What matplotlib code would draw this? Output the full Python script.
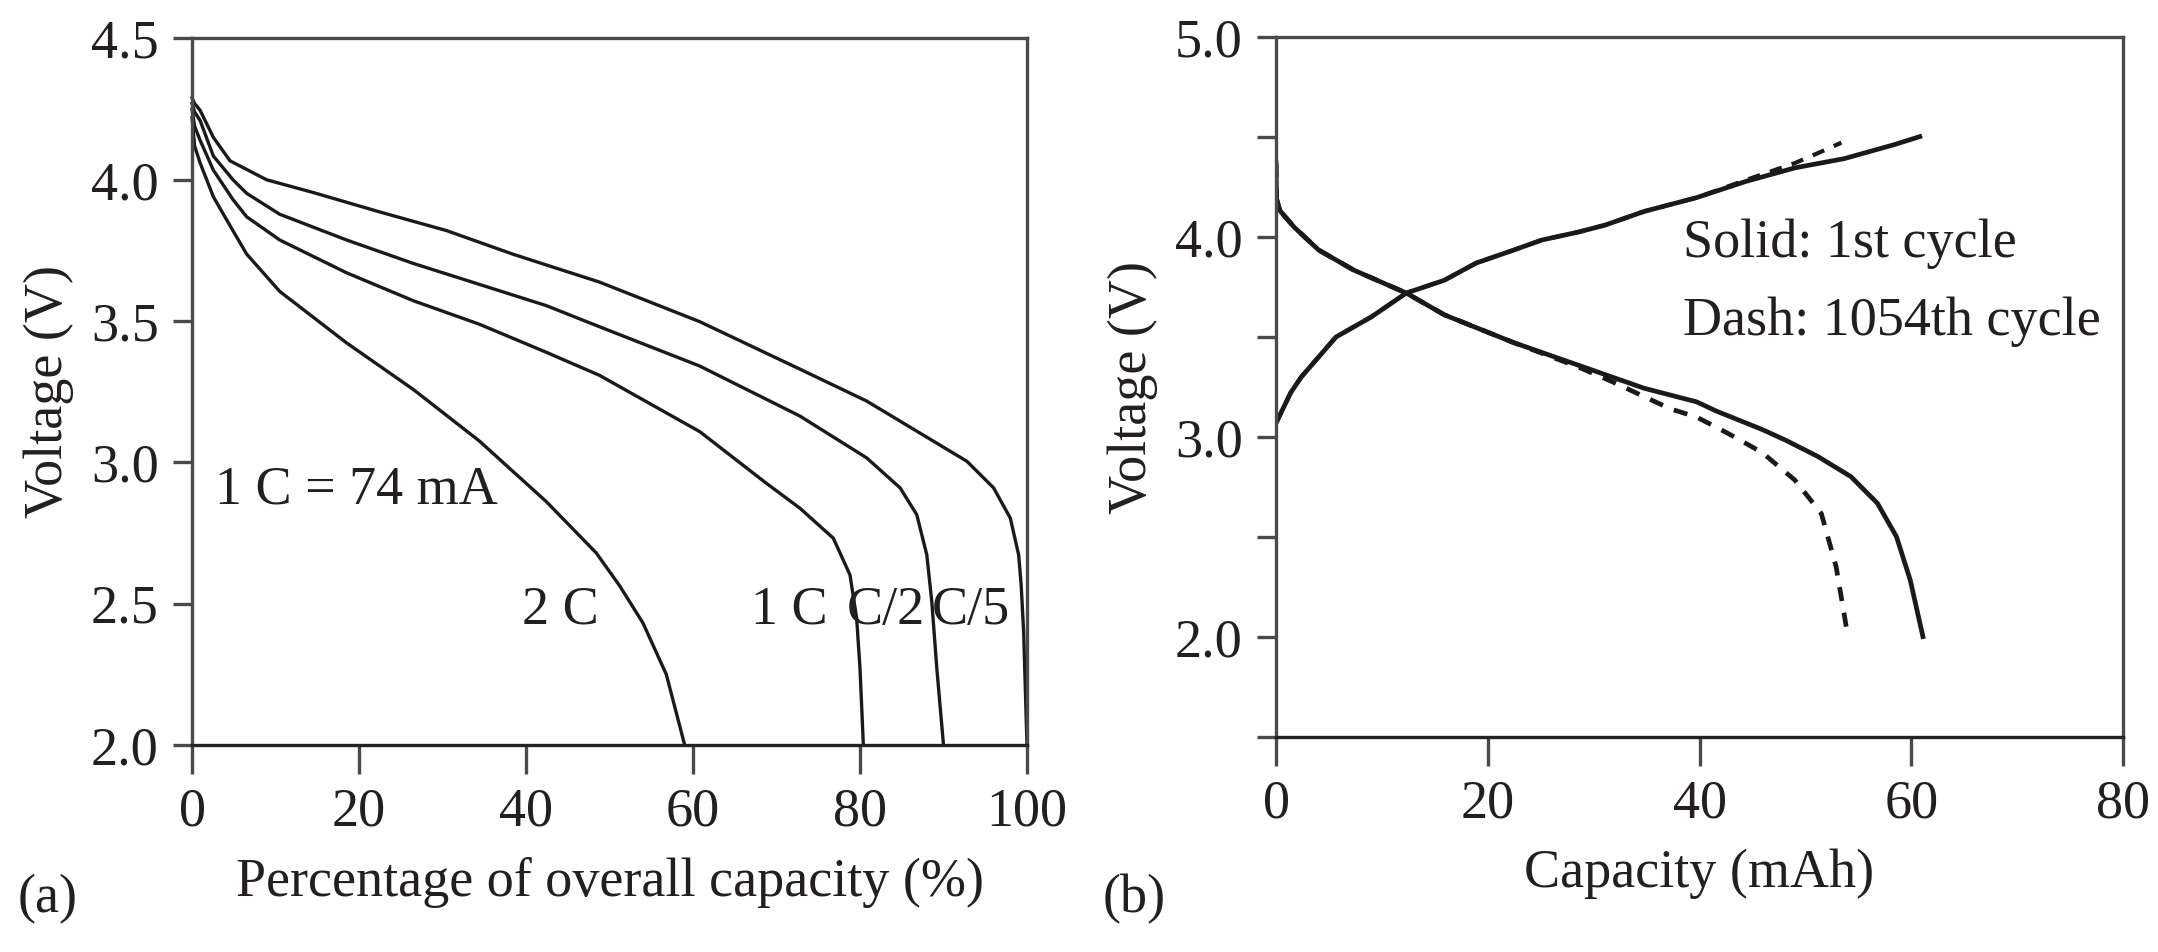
import matplotlib
matplotlib.use("Agg")
import matplotlib.pyplot as plt

plt.rcParams['font.family'] = ['Liberation Serif', 'DejaVu Serif']
plt.rcParams['font.size'] = 39

TEXT = "#231f20"
LINE = "#1a1a1a"
SPINE = "#4a4a4a"

# (a) discharge curves at different rates, % of overall capacity
c5_x = [0, 0.3, 0.96, 2.55, 4.55, 8.93, 14.5, 22.5, 30.5, 38.4, 48.8, 60.8, 72.8, 80.8, 88.8, 92.8, 96.0, 98.0, 99.0, 99.3, 99.6, 99.8, 100]
c5_v = [4.29, 4.27, 4.246, 4.15, 4.067, 4.0, 3.955, 3.886, 3.82, 3.737, 3.638, 3.498, 3.330, 3.217, 3.075, 3.004, 2.910, 2.803, 2.673, 2.567, 2.40, 2.2, 2.0]

c2_x = [0, 0.3, 0.96, 2.55, 4.9, 6.54, 10.5, 18.5, 26.5, 34.4, 42.4, 48.8, 60.8, 72.8, 80.8, 84.8, 86.8, 88.0, 88.6, 89.2, 90.0]
c2_v = [4.27, 4.24, 4.21, 4.084, 4.0, 3.952, 3.878, 3.787, 3.704, 3.630, 3.555, 3.48, 3.341, 3.164, 3.016, 2.910, 2.815, 2.673, 2.507, 2.271, 2.0]

c1_x = [0, 0.3, 0.96, 2.55, 4.9, 6.54, 10.5, 18.5, 26.5, 34.4, 42.4, 48.8, 60.8, 68.7, 72.8, 76.8, 78.8, 79.6, 80.0, 80.4]
c1_v = [4.25, 4.19, 4.14, 4.034, 3.93, 3.869, 3.787, 3.671, 3.572, 3.489, 3.39, 3.308, 3.109, 2.928, 2.838, 2.732, 2.602, 2.448, 2.271, 2.0]

c2c_x = [0, 0.3, 0.96, 2.55, 4.5, 6.54, 10.5, 18.5, 26.5, 34.4, 42.4, 48.4, 51.2, 54.0, 56.8, 59.0]
c2c_v = [4.22, 4.12, 4.06, 3.94, 3.84, 3.737, 3.605, 3.423, 3.258, 3.076, 2.862, 2.68, 2.564, 2.432, 2.25, 2.0]

rate_labels = ["2 C", "1 C", "C/2", "C/5"]
rate_label_x = [39.5, 67.0, 78.4, 88.6]

# (b) 1st cycle (solid) vs 1054th cycle (dash), capacity in mAh
dis1_x = [0, 0.05, 0.4, 1.7, 4.03, 7.33, 12.3, 15.9, 22.35, 28.56, 34.76, 39.72, 41.58, 45.9, 48.1, 51.2, 54.3, 56.8, 58.6, 59.9, 61.1]
dis1_v = [4.37, 4.19, 4.13, 4.05, 3.935, 3.835, 3.72, 3.611, 3.474, 3.359, 3.244, 3.176, 3.13, 3.038, 2.985, 2.902, 2.802, 2.669, 2.502, 2.285, 2.002]

chg1_x = [0, 1.39, 2.38, 5.66, 8.98, 12.3, 15.9, 18.9, 22.35, 25.1, 28.56, 31.1, 34.76, 39.72, 44.37, 49.02, 53.67, 58.33, 60.8]
chg1_v = [3.07, 3.222, 3.30, 3.50, 3.60, 3.72, 3.784, 3.87, 3.933, 3.985, 4.025, 4.06, 4.128, 4.197, 4.278, 4.346, 4.392, 4.461, 4.502]

dis1054_x = [0, 0.05, 0.4, 1.7, 4.03, 7.33, 12.3, 15.9, 22.35, 28.56, 31.66, 37.24, 39.72, 42.8, 45.9, 49.0, 51.5, 52.9, 53.8, 54.0]
dis1054_v = [4.37, 4.19, 4.13, 4.05, 3.935, 3.835, 3.72, 3.611, 3.474, 3.35, 3.279, 3.141, 3.10, 3.015, 2.923, 2.785, 2.618, 2.352, 2.07, 2.005]

chg1054_x = [0, 1.39, 2.38, 5.66, 8.98, 12.3, 15.9, 18.9, 22.35, 25.1, 28.56, 31.1, 34.76, 39.72, 44.37, 49.02, 51.5, 53.4]
chg1054_v = [3.07, 3.222, 3.30, 3.50, 3.60, 3.72, 3.784, 3.87, 3.933, 3.985, 4.025, 4.06, 4.128, 4.197, 4.285, 4.37, 4.427, 4.472]


def style_axes(ax):
    for side in ["left", "right", "top", "bottom"]:
        ax.spines[side].set_color(SPINE)
        ax.spines[side].set_linewidth(2.4)
    ax.spines["bottom"].set_color("#222222")
    ax.tick_params(which="both", direction="out", colors=SPINE, labelcolor=TEXT,
                   width=2.4, top=False, right=False)
    ax.tick_params(axis="y", which="both", length=14, pad=10)
    ax.tick_params(axis="x", which="both", length=21, pad=9)


fig = plt.figure(figsize=(21.58, 9.52), dpi=100)

# panel (a)
ax1 = fig.add_axes([0.0890, 0.2174, 0.3869, 0.7422])
for xs, vs in [(c5_x, c5_v), (c2_x, c2_v), (c1_x, c1_v), (c2c_x, c2c_v)]:
    ax1.plot(xs, vs, color=LINE, linewidth=2.4, clip_on=False)
ax1.set_xlim(0, 100)
ax1.set_ylim(2.0, 4.5)
ax1.set_xticks([0, 20, 40, 60, 80, 100])
ax1.set_yticks([2.0, 2.5, 3.0, 3.5, 4.0, 4.5])
ax1.set_yticklabels(["2.0", "2.5", "3.0", "3.5", "4.0", "4.5"])
style_axes(ax1)
ax1.set_xlabel("Percentage of overall capacity (%)", color=TEXT, labelpad=14)
ax1.set_ylabel("Voltage (V)", color=TEXT, labelpad=12)
ax1.text(2.75, 2.853, "1 C = 74 mA", color=TEXT, va="baseline")
for lab, lx in zip(rate_labels, rate_label_x):
    ax1.text(lx, 2.429, lab, color=TEXT, va="baseline")

# panel (b)
ax2 = fig.add_axes([0.5913, 0.2258, 0.3925, 0.7353])
ax2.plot(dis1_x, dis1_v, color=LINE, linewidth=3.4)
ax2.plot(chg1_x, chg1_v, color=LINE, linewidth=3.4)
ax2.plot(dis1054_x, dis1054_v, color=LINE, linewidth=3.4, dashes=(3, 2.5))
ax2.plot(chg1054_x, chg1054_v, color=LINE, linewidth=3.0, dashes=(3, 2.5))
ax2.set_xlim(0, 80)
ax2.set_ylim(1.5, 5.0)
ax2.set_xticks([0, 20, 40, 60, 80])
ax2.set_yticks([2.0, 3.0, 4.0, 5.0])
ax2.set_yticklabels(["2.0", "3.0", "4.0", "5.0"])
ax2.set_yticks([1.5, 2.5, 3.5, 4.5], minor=True)
style_axes(ax2)
ax2.set_xlabel("Capacity (mAh)", color=TEXT, labelpad=14)
ax2.set_ylabel("Voltage (V)", color=TEXT, labelpad=12)
ax2.text(38.4, 3.899, "Solid: 1st cycle", color=TEXT, va="baseline")
ax2.text(38.4, 3.509, "Dash: 1054th cycle", color=TEXT, va="baseline")

fig.text(0.0083, 0.042, "(a)", color=TEXT, va="baseline")
fig.text(0.511, 0.042, "(b)", color=TEXT, va="baseline")

fig.savefig("out.png", dpi=100)
